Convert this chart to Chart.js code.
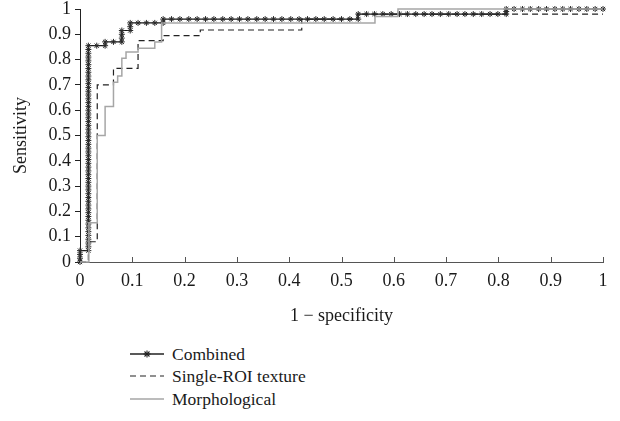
<!DOCTYPE html>
<html>
<head>
<meta charset="utf-8">
<script src="https://cdn.jsdelivr.net/npm/chart.js@4.4.0/dist/chart.umd.min.js"></script>
<style>
  body { margin: 0; background: #fff; width: 620px; height: 421px; overflow: hidden; font-family: 'Liberation Serif', serif; }
  #wrap { position: absolute; left: 0; top: 0; width: 620px; height: 330px; }
  .key { position: absolute; left: 130px; height: 20px; display: flex; align-items: center; font-size: 17.5px; color: #1a1a1a; }
  .key svg { margin-right: 8px; }
</style>
</head>
<body>
<div id="wrap"><canvas id="roc"></canvas></div>
<div class="key" style="top:344px">
  <svg width="34" height="12"><line x1="0" y1="6" x2="34" y2="6" stroke="#222" stroke-width="1.3"/>
    <g stroke="#222" stroke-width="1.1"><line x1="17" y1="2.5" x2="17" y2="9.5"/><line x1="13.5" y1="6" x2="20.5" y2="6"/><line x1="14.5" y1="3.5" x2="19.5" y2="8.5"/><line x1="19.5" y1="3.5" x2="14.5" y2="8.5"/></g></svg>
  Combined
</div>
<div class="key" style="top:366px">
  <svg width="34" height="12"><line x1="0" y1="6" x2="34" y2="6" stroke="#222" stroke-width="1.2" stroke-dasharray="6,4"/></svg>
  Single-ROI texture
</div>
<div class="key" style="top:389px">
  <svg width="34" height="12"><line x1="0" y1="6" x2="34" y2="6" stroke="#a6a6a6" stroke-width="1.5"/></svg>
  Morphological
</div>
<script>
// ROC points (x = 1 - specificity, y = sensitivity)
const combinedFpr = [
  0, 0, 0, 0,
  0.016, 0.016, 0.016, 0.016, 0.016, 0.016, 0.016, 0.016, 0.016, 0.016, 0.016,
  0.016, 0.016, 0.016, 0.016, 0.016, 0.016, 0.016, 0.016, 0.016, 0.016, 0.016,
  0.016, 0.016, 0.016, 0.016, 0.016, 0.016, 0.016, 0.016, 0.016, 0.016, 0.016,
  0.016, 0.016, 0.016, 0.016, 0.016, 0.016, 0.016, 0.016, 0.016, 0.016, 0.016,
  0.016, 0.016, 0.016, 0.016, 0.016, 0.016, 0.016, 0.016, 0.016, 0.016, 0.016,
  0.032, 0.048, 0.048, 0.064, 0.080, 0.080, 0.080, 0.080, 0.096, 0.096, 0.096, 0.111, 0.127, 0.143, 0.159, 0.159,
  0.175, 0.191, 0.208, 0.224, 0.240, 0.256, 0.273, 0.289, 0.305, 0.321, 0.338, 0.354,
  0.370, 0.386, 0.403, 0.419, 0.435, 0.451, 0.467, 0.484, 0.500, 0.516, 0.532,
  0.532,
  0.548, 0.563, 0.579, 0.595, 0.611, 0.626, 0.642, 0.658, 0.673,
  0.689, 0.705, 0.721, 0.736, 0.752, 0.768, 0.784, 0.799, 0.815,
  0.815, 0.815,
  0.830, 0.846, 0.861, 0.877, 0.892, 0.908, 0.923, 0.938, 0.954, 0.969, 0.985, 1.0
];
const combinedTpr = [
  0, 0.015, 0.03, 0.045,
  0.045, 0.06, 0.075, 0.09, 0.105, 0.12, 0.135, 0.15, 0.165, 0.18, 0.195,
  0.21, 0.225, 0.24, 0.255, 0.27, 0.285, 0.30, 0.315, 0.33, 0.345, 0.36,
  0.375, 0.39, 0.405, 0.42, 0.435, 0.45, 0.465, 0.48, 0.495, 0.51, 0.525,
  0.54, 0.555, 0.57, 0.585, 0.60, 0.615, 0.63, 0.645, 0.66, 0.675, 0.69,
  0.705, 0.72, 0.735, 0.75, 0.765, 0.78, 0.795, 0.81, 0.825, 0.84, 0.855,
  0.855, 0.855, 0.87, 0.87, 0.87, 0.885, 0.90, 0.915, 0.915, 0.93, 0.945, 0.945, 0.945, 0.945, 0.945, 0.96,
  0.96, 0.96, 0.96, 0.96, 0.96, 0.96, 0.96, 0.96, 0.96, 0.96, 0.96, 0.96,
  0.96, 0.96, 0.96, 0.96, 0.96, 0.96, 0.96, 0.96, 0.96, 0.96, 0.96,
  0.98,
  0.98, 0.98, 0.98, 0.98, 0.98, 0.98, 0.98, 0.98, 0.98,
  0.98, 0.98, 0.98, 0.98, 0.98, 0.98, 0.98, 0.98, 0.98,
  0.99, 1.0,
  1.0, 1.0, 1.0, 1.0, 1.0, 1.0, 1.0, 1.0, 1.0, 1.0, 1.0, 1.0
];
const singleFpr = [0, 0.016, 0.016, 0.033, 0.033, 0.064, 0.064, 0.111, 0.111, 0.159, 0.159, 0.230, 0.230, 0.424, 0.424, 0.530, 0.530, 1.0];
const singleTpr = [0, 0, 0.08, 0.08, 0.70, 0.70, 0.765, 0.765, 0.875, 0.875, 0.895, 0.895, 0.917, 0.917, 0.96, 0.96, 0.98, 0.98];
const morphFpr = [0, 0.017, 0.017, 0.033, 0.033, 0.048, 0.048, 0.064, 0.064, 0.072, 0.072, 0.080, 0.080,
  0.088, 0.088, 0.111, 0.111, 0.143, 0.143, 0.156, 0.156, 0.564, 0.564, 0.608, 0.608, 1.0];
const morphTpr = [0, 0, 0.155, 0.155, 0.50, 0.50, 0.615, 0.615, 0.71, 0.71, 0.735, 0.735, 0.805,
  0.805, 0.83, 0.83, 0.845, 0.845, 0.87, 0.87, 0.945, 0.945, 0.97, 0.97, 1.0, 1.0];
const axisTicks = [0, 0.1, 0.2, 0.3, 0.4, 0.5, 0.6, 0.7, 0.8, 0.9, 1];

function toPoints(xs, ys) {
  return xs.map((x, i) => ({ x: x, y: ys[i] }));
}

// x axis ticks point up into the plot
const innerTicks = {
  id: 'innerTicks',
  afterDatasetsDraw(chart) {
    const ctx = chart.ctx, x = chart.scales.x;
    ctx.save();
    ctx.strokeStyle = '#555';
    ctx.lineWidth = 1;
    axisTicks.forEach(v => {
      if (v === 0) return;
      const px = Math.round(x.getPixelForValue(v)) + 0.5;
      ctx.beginPath();
      ctx.moveTo(px, x.top);
      ctx.lineTo(px, x.top - 5);
      ctx.stroke();
    });
    ctx.restore();
  }
};

const serif = { family: "'Liberation Serif', serif", size: 18 };
const tickLabel = v => String(Math.round(v * 10) / 10);

new Chart(document.getElementById('roc').getContext('2d'), {
  type: 'line',
  data: {
    datasets: [{
      label: 'Combined',
      data: toPoints(combinedFpr, combinedTpr),
      borderColor: '#1a1a1a',
      borderWidth: 1.2,
      pointStyle: 'star',
      pointRadius: 3,
      pointBorderWidth: 1,
      pointBorderColor: '#2a2a2a',
      pointBackgroundColor: '#2a2a2a',
      order: 3,
      clip: false
    }, {
      label: 'Single-ROI texture',
      data: toPoints(singleFpr, singleTpr),
      borderColor: '#222',
      borderWidth: 1.2,
      borderDash: [6, 4],
      pointRadius: 0,
      order: 2,
      clip: false
    }, {
      label: 'Morphological',
      data: toPoints(morphFpr, morphTpr),
      borderColor: '#a6a6a6',
      borderWidth: 1.5,
      pointRadius: 0,
      order: 1,
      clip: false
    }]
  },
  options: {
    responsive: true,
    maintainAspectRatio: false,
    animation: false,
    layout: { padding: { left: 0, right: 17, top: 9, bottom: 0 } },
    plugins: { legend: { display: false }, tooltip: { enabled: false } },
    elements: { line: { tension: 0 } },
    scales: {
      x: {
        type: 'linear',
        min: 0,
        max: 1,
        afterBuildTicks: s => { s.ticks = axisTicks.map(v => ({ value: v })); },
        afterFit: s => { s.height = 68; s.paddingLeft = 0; s.paddingRight = 0; },
        grid: { display: true, drawOnChartArea: false, drawTicks: false },
        border: { display: true, color: '#555', width: 1 },
        ticks: { font: serif, color: '#1a1a1a', padding: 8, maxRotation: 0, callback: tickLabel },
        title: { display: true, text: '1 \u2212 specificity', font: serif, color: '#1a1a1a', padding: { top: 0, bottom: 3 } }
      },
      y: {
        min: 0,
        max: 1,
        afterBuildTicks: s => { s.ticks = axisTicks.map(v => ({ value: v })); },
        afterFit: s => { s.width = 80; s.paddingTop = 0; s.paddingBottom = 0; },
        grid: { display: true, drawOnChartArea: false, drawTicks: true, tickLength: 5, color: '#222' },
        border: { display: true, color: '#222', width: 1 },
        ticks: { font: serif, color: '#1a1a1a', padding: 4, callback: tickLabel },
        title: { display: true, text: 'Sensitivity', font: serif, color: '#1a1a1a', padding: { top: 10, bottom: 0 } }
      }
    }
  },
  plugins: [innerTicks]
});
</script>
</body>
</html>
